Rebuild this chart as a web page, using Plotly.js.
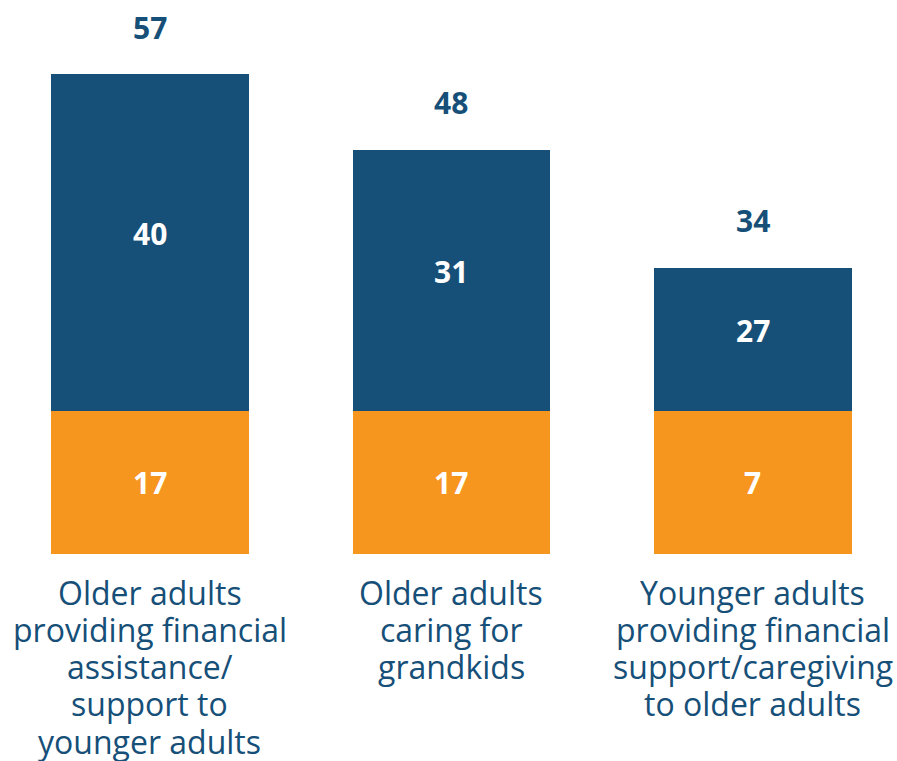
<!DOCTYPE html>
<html>
<head>
<meta charset="utf-8">
<script src="https://cdn.plot.ly/plotly-3.0.1.min.js"></script>
<style>html,body{margin:0;padding:0;background:#fff;}#chart{width:897px;height:761px;}</style>
</head>
<body>
<div id="chart"></div>
<script>
var categories = ["Older adults<br>providing financial<br>assistance/<br>support to<br>younger adults",
                  "Older adults<br>caring for<br>grandkids",
                  "Younger adults<br>providing financial<br>support/caregiving<br>to older adults"];
// value labels as printed in the reference
var bottomLabels = [17, 17, 7];
var topLabels = [40, 31, 27];
var totals = [57, 48, 34];
// segment heights as drawn in the reference (the third bar's segments are drawn equal)
var bottomHeights = [17, 17, 17];
var topHeights = [40, 31, 17];

var BLUE = "#164F78", ORANGE = "#F7961F";
var xIdx = categories.map(function(_, i){ return i; });

var traces = [
  {type: "bar", x: xIdx, y: bottomHeights, marker: {color: ORANGE}, hoverinfo: "none"},
  {type: "bar", x: xIdx, y: topHeights, marker: {color: BLUE}, hoverinfo: "none"}
];

var annotations = [];
var valFont = {family: "Open Sans", size: 30, color: "#fff"};
xIdx.forEach(function(i){
  annotations.push({x: i, y: bottomHeights[i] / 2, xref: "x", yref: "y", text: "<b>" + bottomLabels[i] + "</b>",
    showarrow: false, yanchor: "middle", font: valFont});
  annotations.push({x: i, y: bottomHeights[i] + topHeights[i] / 2, xref: "x", yref: "y", text: "<b>" + topLabels[i] + "</b>",
    showarrow: false, yanchor: "middle", yshift: 9, font: valFont});
  annotations.push({x: i, y: bottomHeights[i] + topHeights[i], xref: "x", yref: "y", text: "<b>" + totals[i] + "</b>",
    showarrow: false, yanchor: "middle", yshift: 47, font: {family: "Open Sans", size: 30, color: BLUE}});
});
categories.forEach(function(c, i){
  c.split("<br>").forEach(function(line, j){
    annotations.push({x: i, y: 0, xref: "x", yref: "y", text: line, showarrow: false,
      yanchor: "middle", yshift: -(38 + j * 37.25),
      font: {family: "Open Sans", size: 32, color: BLUE}});
  });
});

var layout = {
  width: 897, height: 761,
  margin: {l: 0, r: 0, t: 0, b: 207, pad: 0},
  paper_bgcolor: "#fff", plot_bgcolor: "#fff",
  barmode: "stack", bargap: 0.345,
  showlegend: false,
  xaxis: {range: [-0.4975, 2.478], showticklabels: false, showgrid: false, zeroline: false, showline: false, ticks: ""},
  yaxis: {range: [0, 65.8], showticklabels: false, showgrid: false, zeroline: false, showline: false, ticks: ""},
  annotations: annotations
};

Plotly.newPlot("chart", traces, layout, {displayModeBar: false, staticPlot: true});
</script>
</body>
</html>
